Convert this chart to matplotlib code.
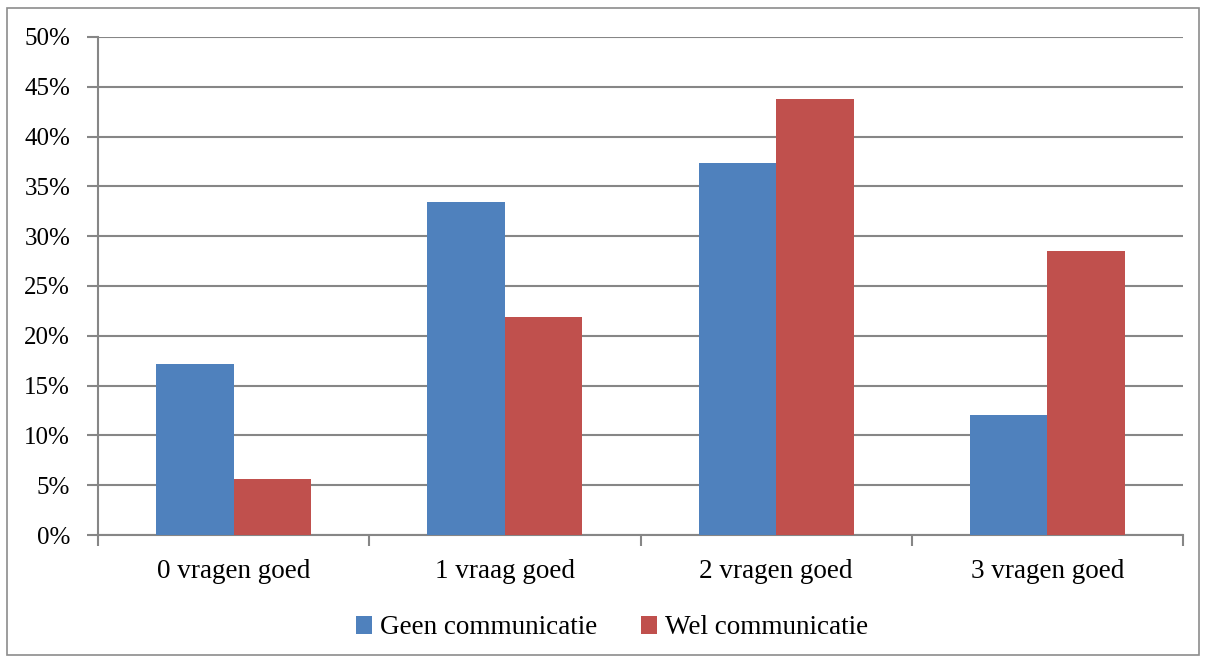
import matplotlib
matplotlib.use("Agg")
import matplotlib.pyplot as plt
from matplotlib.patches import Rectangle
from matplotlib.ticker import FuncFormatter, MultipleLocator
import numpy as np

categories = ["0 vragen goed", "1 vraag goed", "2 vragen goed", "3 vragen goed"]
series_names = ["Geen communicatie", "Wel communicatie"]
geen = [17.2, 33.4, 37.3, 12.0]
wel = [5.6, 21.9, 43.8, 28.5]
colors = ["#4F81BD", "#C0504D"]

plt.rcParams['font.family'] = ['Liberation Serif', 'DejaVu Serif']

fig = plt.figure(figsize=(12.05, 6.59), dpi=100)
fig.patches.append(Rectangle((7/1205, 4/659), 1192/1205, 647/659, transform=fig.transFigure,
                             fill=False, edgecolor="#8c8c8c", linewidth=1.2))
ax = fig.add_axes([98/1205, (659-535)/659, 1085/1205, 498/659])

x = np.arange(len(categories))
w = 1/3.5
ax.bar(x - w/2, geen, w, color=colors[0], label=series_names[0], zorder=3)
ax.bar(x + w/2, wel, w, color=colors[1], label=series_names[1], zorder=3)

ax.set_xlim(-0.5, len(categories) - 0.5)
ax.set_ylim(0, 50)
ax.yaxis.set_major_locator(MultipleLocator(5))
ax.yaxis.set_major_formatter(FuncFormatter(lambda v, p: f"{int(round(v))}%"))
ax.grid(axis='y', color="#868686", linewidth=1.5, zorder=0)
ax.set_axisbelow(True)

ax.set_xticks(np.arange(-0.5, len(categories) + 0.5, 1))
ax.set_xticklabels([])
ax.set_xticks(x, minor=True)
ax.set_xticklabels(categories, minor=True)
ax.tick_params(axis='x', which='minor', length=0, pad=17, labelsize=19.5)
ax.tick_params(axis='x', which='major', length=8, width=1.5, color="#868686", direction='out')
ax.tick_params(axis='y', length=8, width=1.5, color="#868686", pad=12, labelsize=18)

for s in ["top", "right"]:
    ax.spines[s].set_visible(False)
for s in ["left", "bottom"]:
    ax.spines[s].set_color("#868686")
    ax.spines[s].set_linewidth(1.5)

fig.legend(loc='center', bbox_to_anchor=(612/1205, (659-628)/659), ncol=2, frameon=False,
           fontsize=19.5, handlelength=0.6, handleheight=0.6, handletextpad=0.3, columnspacing=1.6)

fig.savefig("out.png", dpi=100)
